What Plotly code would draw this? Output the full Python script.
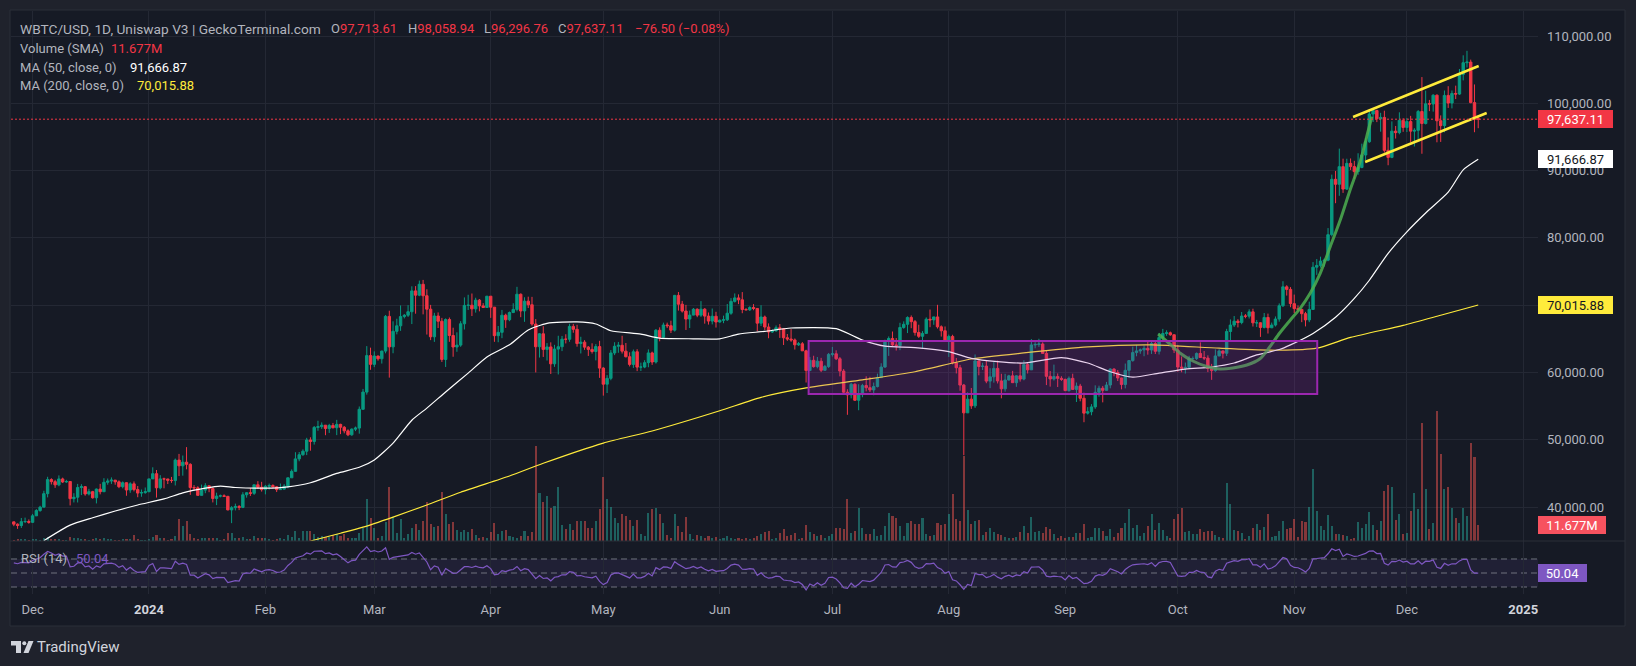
import plotly.graph_objects as go
import pandas as pd

W, H = 1636, 666
FONT = "Roboto, 'Open Sans', sans-serif"

# ---------------- data (prices in thousands of USD, volume in millions) ----------------
opens_k = [
    37.79, 37.45, 37.25, 37.82, 37.85,
    37.72, 38.69, 39.47, 39.98, 41.98, 44.08, 43.77, 43.29, 44.17, 43.72, 43.79, 41.24, 41.45, 42.89, 43.02, 41.94, 42.28, 41.37, 42.66, 42.27, 43.67, 43.86, 43.99, 43.74, 43.02, 43.61, 42.52, 43.44, 42.59, 42.07, 42.14,
    42.28, 44.18, 44.95, 42.85, 44.18, 44.16, 43.97, 43.93, 46.97, 46.12, 46.66, 46.34, 42.89, 42.85, 41.73, 42.51, 43.15, 42.74, 41.26, 41.62, 41.66, 41.58, 39.57, 39.90, 40.08, 39.94, 41.82, 42.12, 42.03, 43.30, 42.94,
    42.58, 43.08, 43.19, 43.00, 42.58, 42.66, 43.09, 44.34, 45.30, 47.15, 47.77, 48.29, 49.96, 49.74, 51.83, 51.94, 52.16, 51.66, 52.12, 51.78, 52.28, 51.85, 51.32, 50.73, 51.57, 51.73, 54.52, 57.08, 62.50,
    61.20, 62.44, 62.03, 63.17, 68.33, 63.80, 66.11, 66.93, 68.30, 68.50, 69.02, 72.12, 71.48, 73.10, 71.40, 69.40, 65.30, 68.39, 67.61, 61.93, 67.86, 65.49, 63.78, 64.06, 67.23, 69.96, 69.99, 69.45, 70.74, 69.89, 69.65,
    71.33, 69.70, 65.46, 65.96, 68.50, 67.83, 68.90, 69.36, 71.62, 69.14, 70.59, 70.06, 67.19, 63.82, 65.74, 63.42, 63.79, 61.28, 63.47, 63.82, 64.94, 64.93, 66.84, 66.41, 64.29, 64.50, 63.76, 63.42, 63.11, 63.84,
    60.64, 58.25, 59.12, 62.89, 63.89, 64.03, 63.16, 62.33, 61.19, 63.07, 60.79, 60.80, 61.45, 62.90, 61.55, 66.27, 65.23, 67.05, 66.94, 66.28, 71.45, 70.14, 69.12, 67.93, 68.52, 69.39, 68.51, 69.40, 68.37, 67.63, 68.35,
    67.49, 67.76, 67.82, 68.80, 70.56, 71.08, 70.79, 69.35, 69.31, 69.65, 69.51, 67.32, 68.24, 66.75, 66.01, 66.19, 66.64, 66.49, 65.15, 64.96, 64.83, 64.10, 64.26, 63.21, 60.28, 61.80, 60.86, 61.67, 60.32, 60.89,
    62.68, 62.77, 62.03, 60.20, 57.06, 56.66, 58.24, 55.86, 56.71, 58.05, 57.73, 57.40, 57.90, 59.23, 60.80, 64.72, 65.04, 64.09, 63.99, 66.68, 67.15, 68.17, 67.55, 65.94, 65.37, 65.80, 67.91, 67.81, 68.25, 66.78, 66.19,
    64.62, 65.35, 61.42, 60.70, 58.12, 53.99, 56.03, 55.03, 61.71, 60.88, 60.94, 58.71, 59.35, 60.60, 58.74, 57.56, 58.87, 59.49, 58.48, 59.49, 59.01, 61.16, 60.38, 64.09, 64.16, 64.22, 62.83, 59.42, 59.03, 59.38, 59.12,
    58.97, 57.30, 59.12, 57.48, 57.97, 56.16, 53.95, 54.16, 54.88, 57.04, 57.65, 57.34, 58.13, 60.50, 60.00, 59.18, 58.21, 60.31, 61.76, 62.95, 63.20, 63.35, 63.58, 63.33, 64.30, 63.14, 65.18, 65.79, 65.89, 65.60,
    63.33, 60.80, 60.63, 60.75, 62.07, 62.07, 62.82, 62.22, 62.13, 60.58, 60.27, 62.45, 63.19, 62.85, 66.08, 67.04, 67.62, 67.42, 68.38, 68.36, 69.00, 67.37, 67.38, 66.68, 68.17, 66.64, 67.04, 67.94, 69.91, 72.72, 72.34,
    70.22, 69.48, 69.37, 68.73, 67.81, 69.36, 75.64, 75.90, 76.55, 76.68, 80.47, 88.70, 87.96, 90.58, 87.25, 91.07, 90.59, 89.85, 90.46, 92.31, 94.29, 98.40, 98.92, 97.70, 97.90, 93.01, 91.96, 95.86, 95.64, 97.46,
    96.41, 97.28, 95.86, 95.98, 98.77, 97.00, 99.92, 99.89, 101.20, 97.40, 96.68, 101.17, 100.04, 101.46, 101.37, 104.30, 106.03, 106.12, 100.10, 97.71361,
]
highs_k = [
    37.82, 37.56, 38.37, 38.42, 38.15,
    38.97, 39.68, 40.18, 42.41, 44.49, 44.27, 44.04, 44.70, 44.36, 44.04, 43.81, 42.05, 43.43, 43.39, 43.08, 42.70, 42.40, 42.75, 43.44, 44.28, 44.23, 44.40, 44.02, 43.95, 43.80, 43.65, 43.68, 43.80, 43.12, 42.60, 42.90,
    44.19, 45.90, 45.50, 44.73, 44.36, 44.19, 44.47, 47.20, 47.89, 47.65, 48.90, 46.50, 43.25, 43.08, 43.33, 43.54, 43.18, 42.93, 42.13, 41.85, 41.88, 41.66, 40.13, 40.50, 40.29, 42.20, 42.19, 42.82, 43.31, 43.84, 43.74,
    43.28, 43.48, 43.38, 43.12, 43.49, 43.40, 44.37, 45.59, 48.14, 48.17, 48.56, 50.28, 50.36, 52.04, 52.82, 52.57, 52.17, 52.36, 52.49, 52.95, 52.37, 52.03, 51.55, 51.68, 51.95, 54.94, 57.55, 63.91, 63.68,
    63.13, 62.48, 63.23, 68.54, 69.17, 67.60, 67.98, 69.96, 68.67, 70.00, 72.80, 72.83, 73.65, 73.75, 72.36, 70.04, 68.86, 68.92, 68.11, 68.03, 68.16, 66.65, 65.96, 67.62, 71.15, 71.54, 71.73, 71.10, 70.91, 70.30, 71.37,
    71.34, 69.72, 66.90, 69.29, 68.73, 69.05, 70.28, 72.72, 71.74, 71.17, 71.26, 71.23, 67.93, 65.84, 66.87, 64.36, 64.47, 64.10, 65.45, 65.42, 65.67, 67.23, 67.21, 67.08, 65.30, 64.80, 63.92, 64.33, 64.21, 64.70,
    60.78, 59.60, 63.32, 64.49, 64.53, 65.45, 64.37, 62.99, 63.40, 63.45, 61.46, 61.82, 63.42, 63.09, 66.45, 66.70, 67.40, 67.40, 67.69, 71.52, 71.95, 70.63, 70.04, 69.19, 69.57, 69.52, 70.60, 69.56, 68.91, 69.50, 69.01,
    67.86, 68.44, 70.17, 71.05, 71.74, 71.60, 71.94, 69.56, 69.84, 70.15, 69.56, 69.99, 68.45, 67.29, 66.40, 66.98, 67.19, 66.55, 65.71, 66.44, 65.05, 64.52, 64.51, 63.37, 62.29, 62.48, 62.29, 62.17, 61.11, 62.89,
    63.79, 63.29, 62.29, 60.50, 57.50, 58.47, 58.39, 58.24, 58.30, 59.43, 59.35, 58.50, 59.82, 61.36, 64.87, 65.35, 66.08, 65.11, 67.38, 67.59, 68.33, 68.47, 67.79, 67.09, 66.14, 68.18, 69.35, 68.28, 70.05, 66.99, 66.83,
    65.62, 65.60, 62.15, 61.12, 58.29, 57.03, 57.69, 62.67, 61.74, 61.43, 61.78, 60.63, 61.53, 61.77, 59.80, 59.79, 59.64, 60.23, 59.57, 61.38, 61.80, 61.39, 64.95, 64.48, 65.00, 64.47, 63.20, 60.21, 61.16, 59.85, 59.43,
    59.06, 59.40, 59.81, 58.50, 58.30, 56.99, 54.84, 55.29, 58.08, 58.03, 57.99, 58.59, 60.62, 60.62, 60.36, 59.21, 61.32, 61.80, 63.83, 64.09, 63.56, 64.00, 64.74, 64.81, 64.70, 65.84, 66.47, 66.26, 66.07, 65.63,
    64.08, 62.37, 61.47, 62.47, 62.37, 62.97, 64.47, 63.18, 62.54, 61.27, 63.42, 63.45, 63.27, 66.48, 67.88, 68.38, 67.91, 68.98, 68.67, 69.38, 69.47, 67.80, 67.45, 68.83, 68.74, 67.41, 68.32, 70.26, 73.56, 72.96, 72.68,
    71.57, 69.95, 69.40, 69.00, 70.52, 76.40, 76.85, 77.20, 76.92, 81.45, 89.40, 89.94, 93.26, 91.77, 91.76, 91.80, 91.45, 92.57, 94.00, 94.83, 98.97, 99.30, 99.05, 98.58, 98.90, 94.93, 97.31, 96.63, 98.66, 97.78,
    97.82, 98.13, 96.30, 99.00, 103.90, 101.88, 100.50, 101.35, 101.32, 98.20, 101.90, 102.54, 101.90, 102.62, 105.10, 107.13, 107.80, 106.49, 102.80, 98.05894,
]
lows_k = [
    37.15, 36.75, 36.89, 37.61, 37.52,
    37.62, 38.65, 39.29, 39.97, 41.43, 43.35, 42.84, 43.08, 43.58, 43.59, 40.23, 40.68, 40.67, 41.77, 41.68, 41.72, 41.25, 40.53, 41.88, 42.23, 43.31, 43.43, 43.31, 42.80, 42.77, 41.67, 42.11, 42.32, 41.45, 41.52, 41.97,
    42.19, 44.18, 41.40, 42.63, 42.78, 43.41, 43.59, 43.20, 44.60, 44.66, 45.60, 41.80, 42.44, 41.72, 41.72, 42.05, 42.20, 40.68, 40.28, 41.43, 41.50, 39.50, 37.60, 39.49, 39.54, 39.83, 41.39, 41.64, 41.80, 42.70, 42.29,
    41.88, 42.58, 42.89, 42.22, 42.55, 42.57, 42.79, 44.33, 45.25, 46.80, 47.61, 47.71, 48.37, 49.28, 51.33, 51.60, 50.67, 51.01, 51.68, 50.68, 50.83, 50.95, 50.53, 50.59, 51.28, 50.90, 54.45, 56.70, 60.39,
    60.79, 61.75, 61.32, 62.84, 59.23, 62.85, 65.66, 66.18, 68.03, 68.24, 67.19, 68.73, 71.33, 68.63, 65.63, 64.80, 64.54, 66.60, 61.56, 60.81, 64.55, 62.33, 63.07, 63.81, 66.38, 69.28, 68.38, 68.89, 69.08, 69.57, 69.60,
    68.11, 64.55, 64.49, 65.09, 66.62, 67.61, 68.82, 69.07, 68.21, 67.52, 69.57, 66.94, 60.00, 62.21, 62.30, 61.77, 59.77, 60.83, 59.70, 63.17, 64.31, 64.55, 65.90, 63.83, 62.82, 63.35, 62.45, 62.80, 61.79, 59.19,
    56.55, 56.94, 58.84, 62.57, 62.92, 62.81, 62.24, 60.89, 60.67, 60.19, 60.21, 60.63, 60.77, 61.12, 61.32, 64.62, 65.13, 66.59, 65.86, 66.07, 69.19, 68.90, 66.31, 66.60, 68.50, 68.21, 68.25, 67.25, 67.11, 67.14, 66.67,
    67.40, 67.32, 67.64, 68.57, 70.39, 70.15, 68.80, 69.21, 69.13, 69.24, 66.11, 66.90, 66.30, 65.08, 65.87, 66.04, 65.13, 64.08, 64.69, 64.55, 63.40, 63.94, 63.20, 58.50, 60.24, 60.71, 60.61, 60.05, 60.27, 60.66,
    62.36, 61.84, 59.42, 56.78, 53.70, 56.15, 55.76, 54.38, 56.31, 57.19, 57.09, 56.61, 57.77, 59.21, 60.69, 62.46, 63.91, 63.25, 63.31, 66.49, 65.85, 66.57, 65.48, 65.13, 63.48, 65.77, 66.72, 67.08, 66.52, 65.33, 64.57,
    62.30, 61.20, 59.85, 57.28, 47.70, 53.97, 54.58, 54.72, 59.57, 60.36, 58.40, 57.67, 58.48, 58.36, 56.15, 57.14, 58.79, 58.42, 57.86, 58.63, 58.83, 59.84, 60.36, 63.58, 63.80, 62.81, 58.12, 57.89, 58.79, 57.83, 58.74,
    57.23, 57.14, 57.42, 55.61, 55.71, 52.60, 53.74, 53.63, 54.59, 56.40, 55.55, 57.32, 57.64, 59.43, 58.72, 57.49, 57.63, 59.18, 61.59, 62.40, 62.77, 62.41, 62.64, 62.75, 62.73, 62.67, 64.86, 65.44, 65.44, 62.88,
    60.10, 60.02, 59.83, 60.49, 61.68, 61.85, 62.18, 61.84, 60.05, 58.90, 60.10, 62.41, 62.08, 62.44, 64.82, 66.75, 66.69, 67.16, 68.05, 68.01, 66.82, 66.75, 65.28, 66.54, 65.78, 66.58, 66.82, 67.54, 69.73, 71.42, 69.69,
    68.82, 69.05, 67.47, 66.84, 67.47, 69.30, 74.50, 75.57, 75.73, 76.53, 80.22, 85.15, 86.25, 86.68, 87.12, 90.09, 88.74, 89.38, 90.35, 91.56, 94.13, 97.22, 97.20, 95.78, 92.68, 90.79, 91.84, 94.76, 95.39, 95.76,
    95.72, 94.26, 93.58, 94.66, 92.50, 96.85, 98.83, 98.76, 94.20, 94.26, 95.69, 99.31, 99.24, 100.63, 101.24, 103.40, 105.33, 100.00, 95.70, 96.29676,
]
closes_k = [
    37.45, 37.25, 37.82, 37.85, 37.72,
    38.69, 39.47, 39.98, 41.98, 44.08, 43.77, 43.29, 44.17, 43.72, 43.79, 41.24, 41.45, 42.89, 43.02, 41.94, 42.28, 41.37, 42.66, 42.27, 43.67, 43.86, 43.99, 43.74, 43.02, 43.61, 42.52, 43.44, 42.59, 42.07, 42.14, 42.28,
    44.18, 44.95, 42.85, 44.18, 44.16, 43.97, 43.93, 46.97, 46.12, 46.66, 46.34, 42.89, 42.85, 41.73, 42.51, 43.15, 42.74, 41.26, 41.62, 41.66, 41.58, 39.57, 39.90, 40.08, 39.94, 41.82, 42.12, 42.03, 43.30, 42.94, 42.58,
    43.08, 43.19, 43.00, 42.58, 42.66, 43.09, 44.34, 45.30, 47.15, 47.77, 48.29, 49.96, 49.74, 51.83, 51.94, 52.16, 51.66, 52.12, 51.78, 52.28, 51.85, 51.32, 50.73, 51.57, 51.73, 54.52, 57.08, 62.50, 61.20,
    62.44, 62.03, 63.17, 68.33, 63.80, 66.11, 66.93, 68.30, 68.50, 69.02, 72.12, 71.48, 73.10, 71.40, 69.40, 65.30, 68.39, 67.61, 61.93, 67.86, 65.49, 63.78, 64.06, 67.23, 69.96, 69.99, 69.45, 70.74, 69.89, 69.65, 71.33,
    69.70, 65.46, 65.96, 68.50, 67.83, 68.90, 69.36, 71.62, 69.14, 70.59, 70.06, 67.19, 63.82, 65.74, 63.42, 63.79, 61.28, 63.47, 63.82, 64.94, 64.93, 66.84, 66.41, 64.29, 64.50, 63.76, 63.42, 63.11, 63.84, 60.64,
    58.25, 59.12, 62.89, 63.89, 64.03, 63.16, 62.33, 61.19, 63.07, 60.79, 60.80, 61.45, 62.90, 61.55, 66.27, 65.23, 67.05, 66.94, 66.28, 71.45, 70.14, 69.12, 67.93, 68.52, 69.39, 68.51, 69.40, 68.37, 67.63, 68.35, 67.49,
    67.76, 67.82, 68.80, 70.56, 71.08, 70.79, 69.35, 69.31, 69.65, 69.51, 67.32, 68.24, 66.75, 66.01, 66.19, 66.64, 66.49, 65.15, 64.96, 64.83, 64.10, 64.26, 63.21, 60.28, 61.80, 60.86, 61.67, 60.32, 60.89, 62.68,
    62.77, 62.03, 60.20, 57.06, 56.66, 58.24, 55.86, 56.71, 58.05, 57.73, 57.40, 57.90, 59.23, 60.80, 64.72, 65.04, 64.09, 63.99, 66.68, 67.15, 68.17, 67.55, 65.94, 65.37, 65.80, 67.91, 67.81, 68.25, 66.78, 66.19, 64.62,
    65.35, 61.42, 60.70, 58.12, 53.99, 56.03, 55.03, 61.71, 60.88, 60.94, 58.71, 59.35, 60.60, 58.74, 57.56, 58.87, 59.49, 58.48, 59.49, 59.01, 61.16, 60.38, 64.09, 64.16, 64.22, 62.83, 59.42, 59.03, 59.38, 59.12, 58.97,
    57.30, 59.12, 57.48, 57.97, 56.16, 53.95, 54.16, 54.88, 57.04, 57.65, 57.34, 58.13, 60.50, 60.00, 59.18, 58.21, 60.31, 61.76, 62.95, 63.20, 63.35, 63.58, 63.33, 64.30, 63.14, 65.18, 65.79, 65.89, 65.60, 63.33,
    60.80, 60.63, 60.75, 62.07, 62.07, 62.82, 62.22, 62.13, 60.58, 60.27, 62.45, 63.19, 62.85, 66.08, 67.04, 67.62, 67.42, 68.38, 68.36, 69.00, 67.37, 67.38, 66.68, 68.17, 66.64, 67.04, 67.94, 69.91, 72.72, 72.34, 70.22,
    69.48, 69.37, 68.73, 67.81, 69.36, 75.64, 75.90, 76.55, 76.68, 80.47, 88.70, 87.96, 90.58, 87.25, 91.07, 90.59, 89.85, 90.46, 92.31, 94.29, 98.40, 98.92, 97.70, 97.90, 93.01, 91.96, 95.86, 95.64, 97.46, 96.41,
    97.28, 95.86, 95.98, 98.77, 97.00, 99.92, 99.89, 101.20, 97.40, 96.68, 101.17, 100.04, 101.46, 101.37, 104.30, 106.03, 106.12, 100.10, 97.71361, 97.63711,
]
volumes_m = [
    0.8, 1.1, 1.5, 1.1, 0.8,
    1.2, 1.4, 1.0, 2.4, 3.0, 1.6, 1.5, 1.8, 0.9, 0.8, 3.2, 2.0, 2.2, 1.4, 1.6, 0.9, 1.1, 2.3, 1.5, 2.1, 1.4, 1.2, 0.9, 1.0, 1.1, 1.8, 1.6, 4.4, 1.7, 1.0, 0.9,
    1.3, 3.0, 4.5, 2.0, 1.9, 1.0, 1.1, 3.8, 16.0, 11.0, 14.6, 5.0, 2.1, 1.6, 2.0, 2.2, 1.9, 2.4, 2.0, 1.0, 1.1, 5.8, 5.8, 2.5, 2.0, 2.8, 1.2, 1.3, 3.4, 2.0, 2.2,
    2.0, 1.8, 1.0, 1.5, 2.2, 1.6, 4.4, 3.0, 7.3, 2.4, 7.3, 7.3, 7.3, 5.4, 2.9, 3.7, 2.9, 2.9, 4.4, 5.4, 3.7, 5.4, 2.4, 2.0, 2.4, 6.1, 9.8, 30.7, 17.0,
    9.8, 2.4, 3.7, 14.2, 39.6, 17.5, 6.1, 16.1, 2.0, 4.9, 9.8, 12.2, 7.8, 14.6, 28.7, 12.2, 10.2, 11.0, 35.8, 20.0, 12.2, 13.9, 7.8, 6.8, 7.8, 6.8, 8.5, 4.4, 2.0, 2.9, 2.0,
    6.8, 13.2, 5.4, 7.3, 7.8, 3.7, 2.9, 2.4, 3.7, 7.3, 3.7, 6.8, 69.4, 35.0, 28.5, 32.9, 24.1, 25.5, 39.4, 11.7, 8.5, 12.4, 7.8, 14.6, 14.6, 14.6, 9.7, 9.2, 14.6, 23.1,
    46.7, 30.9, 24.8, 16.5, 12.9, 19.7, 18.2, 15.1, 11.0, 15.1, 5.4, 3.7, 20.4, 23.1, 23.8, 19.7, 12.9, 4.4, 2.4, 19.5, 11.0, 6.8, 17.5, 5.4, 1.2, 4.4, 3.7, 2.4, 3.7, 2.0, 2.9,
    1.2, 2.4, 3.7, 2.4, 1.2, 2.4, 1.2, 2.4, 1.2, 2.4, 3.7, 4.9, 6.8, 7.3, 1.2, 2.0, 6.1, 8.8, 3.7, 4.4, 6.1, 1.2, 2.4, 11.7, 6.8, 4.9, 3.7, 4.4, 2.0, 3.7,
    5.4, 9.8, 9.5, 8.5, 30.7, 6.1, 7.3, 24.3, 9.7, 4.9, 4.9, 8.5, 3.7, 4.4, 11.0, 20.7, 18.2, 16.8, 11.0, 3.7, 13.4, 14.6, 12.2, 12.2, 17.0, 5.4, 3.7, 4.1, 13.4, 11.7, 12.2,
    19.5, 34.1, 16.1, 14.6, 62.1, 22.6, 12.2, 14.6, 15.6, 4.4, 6.8, 9.7, 6.8, 5.4, 4.4, 2.9, 2.0, 2.0, 2.9, 6.8, 11.0, 6.1, 17.5, 6.6, 7.3, 6.1, 10.2, 8.5, 4.9, 2.4, 3.7,
    2.4, 2.9, 2.9, 6.1, 6.1, 12.7, 2.4, 2.9, 9.2, 9.2, 7.3, 3.7, 8.5, 2.9, 6.1, 9.2, 13.4, 23.1, 9.2, 11.4, 3.7, 5.8, 11.0, 20.0, 7.8, 13.4, 7.8, 3.7, 2.4, 15.8,
    20.0, 23.8, 6.8, 7.3, 4.9, 5.4, 8.5, 6.8, 7.3, 7.3, 4.4, 2.9, 2.4, 42.1, 26.8, 7.8, 7.3, 5.6, 1.2, 3.7, 9.7, 12.2, 7.8, 10.2, 19.5, 2.9, 3.7, 7.3, 14.6, 8.5, 9.7,
    15.8, 2.9, 14.6, 14.1, 24.8, 52.3, 21.9, 11.0, 7.8, 19.0, 11.0, 5.4, 5.4, 4.4, 3.7, 1.7, 2.4, 13.9, 9.7, 12.2, 21.4, 11.7, 7.8, 14.6, 36.5, 40.9, 39.4, 15.3, 20.0, 4.9,
    6.1, 21.9, 35.3, 23.1, 86.4, 37.7, 8.5, 13.4, 94.9, 63.3, 38.2, 39.4, 24.3, 17.0, 13.4, 24.3, 18.2, 71.8, 61.3, 11.677,
]

# moving averages read at sample dates
ma50_dates = ["2023-12-04", "2023-12-11", "2023-12-17", "2023-12-23", "2023-12-29", "2024-01-05", "2024-01-10",
              "2024-01-16", "2024-01-20", "2024-01-24", "2024-02-01", "2024-02-07", "2024-02-13", "2024-02-20",
              "2024-02-26", "2024-03-01", "2024-03-06", "2024-03-11", "2024-03-15", "2024-03-20", "2024-03-26",
              "2024-03-31", "2024-04-06", "2024-04-11", "2024-04-16", "2024-04-24", "2024-04-29", "2024-05-03",
              "2024-05-11", "2024-05-16", "2024-05-25", "2024-06-01", "2024-06-06", "2024-06-13", "2024-06-20",
              "2024-07-02", "2024-07-09", "2024-07-15", "2024-07-23", "2024-08-01", "2024-08-07", "2024-08-14",
              "2024-08-21", "2024-08-31", "2024-09-07", "2024-09-13", "2024-09-19", "2024-09-26", "2024-10-03",
              "2024-10-10", "2024-10-16", "2024-10-22", "2024-10-28", "2024-10-31", "2024-11-06", "2024-11-12",
              "2024-11-17", "2024-11-21", "2024-11-26", "2024-12-01", "2024-12-06", "2024-12-12", "2024-12-16",
              "2024-12-20"]
ma50_k = [35.0, 37.3, 38.4, 39.4, 40.3, 41.2, 42.1, 42.8, 43.1, 42.9, 42.8, 43.0, 43.6, 45.0, 45.9, 47.0, 49.5,
          52.9, 54.7, 57.1, 59.9, 62.3, 64.1, 66.3, 67.3, 67.5, 67.2, 66.2, 65.7, 65.1, 65.0, 65.0, 65.7, 66.1,
          66.6, 66.5, 64.8, 63.9, 63.7, 63.1, 62.1, 61.6, 61.4, 62.2, 61.4, 60.1, 59.3, 59.9, 60.5, 60.8, 61.4,
          62.6, 63.4, 64.1, 65.8, 68.2, 71.0, 73.7, 77.7, 80.9, 83.7, 86.8, 90.1, 91.66687]
ma200_dates = ["2024-02-13", "2024-02-21", "2024-02-27", "2024-03-06", "2024-03-15", "2024-03-24", "2024-04-06",
               "2024-04-15", "2024-05-01", "2024-05-14", "2024-06-01", "2024-06-12", "2024-06-24", "2024-07-09",
               "2024-07-23", "2024-08-07", "2024-08-21", "2024-09-07", "2024-09-24", "2024-10-12", "2024-10-28",
               "2024-11-07", "2024-11-16", "2024-11-30", "2024-12-10", "2024-12-20"]
ma200_k = [34.95, 36.1, 37.0, 38.5, 40.3, 42.2, 44.6, 46.5, 49.5, 51.3, 54.3, 56.3, 57.7, 58.9, 60.1, 62.0, 62.9,
           63.8, 64.1, 63.6, 63.3, 63.6, 65.2, 67.0, 68.5, 70.01588]

# RSI(14) Wilder averages carried in from the days before the visible window (USD per day)
rsi_seed_avg_gain, rsi_seed_avg_loss = 560.0, 310.0

month_ticks = ["2023-12-01", "2024-01-01", "2024-02-01", "2024-03-01", "2024-04-01", "2024-05-01", "2024-06-01",
               "2024-07-01", "2024-08-01", "2024-09-01", "2024-10-01", "2024-11-01", "2024-12-01", "2025-01-01"]
month_labels = ["Dec", "2024", "Feb", "Mar", "Apr", "May", "Jun", "Jul", "Aug", "Sep", "Oct", "Nov", "Dec", "2025"]
year_labels = ["2024", "2025"]

# drawings
box_dates = ["2024-06-24 16:00", "2024-11-07 03:00"]
box_k = [56.79, 64.67]
curve_dates = ["2024-09-25 18:00", "2024-09-28 21:00", "2024-10-01 13:00", "2024-10-05 00:00", "2024-10-08 17:00",
               "2024-10-12 04:00", "2024-10-15 15:00", "2024-10-19 09:00", "2024-10-22 19:00", "2024-10-25 11:00",
               "2024-10-28 03:00", "2024-10-30 23:00", "2024-11-02 14:00", "2024-11-05 06:00", "2024-11-07 22:00",
               "2024-11-10 14:00", "2024-11-13 06:00", "2024-11-15 21:00", "2024-11-18 13:00", "2024-11-20 18:00",
               "2024-11-21 16:00"]
curve_k = [65.71, 64.23, 62.89, 61.70, 60.88, 60.51, 60.66, 61.10, 61.99, 63.78, 65.86, 67.79, 69.53, 71.76, 74.73,
           78.69, 82.65, 87.11, 91.32, 96.03, 98.01]
chan_up_dates = ["2024-11-16 16:00", "2024-12-20 03:00"]
chan_up_k = [97.96, 105.54]
chan_lo_dates = ["2024-11-19 21:00", "2024-12-22 06:00"]
chan_lo_k = [91.27, 98.56]

last_open, last_high, last_low, last_close = 97713.61, 98058.94, 96296.76, 97637.11
last_ma50, last_ma200, last_vol, last_rsi_label = 91666.87, 70015.88, 11.677, "50.04"

n = len(closes_k)
assert len(opens_k) == n and len(highs_k) == n and len(lows_k) == n and len(volumes_m) == n, \
    (len(opens_k), len(highs_k), len(lows_k), n, len(volumes_m))

K = 1000.0
dates = pd.date_range("2023-11-26", periods=n, freq="D")
opens = [v * K for v in opens_k]
highs = [v * K for v in highs_k]
lows = [v * K for v in lows_k]
closes = [v * K for v in closes_k]

# RSI(14) of the closes, Wilder smoothing continued from the seeded averages
ag, al = rsi_seed_avg_gain, rsi_seed_avg_loss
rsi = [100 - 100 / (1 + ag / al)]
for i in range(1, n):
    d = closes[i] - closes[i - 1]
    ag = (ag * 13 + max(d, 0.0)) / 14
    al = (al * 13 + max(-d, 0.0)) / 14
    rsi.append(100 - 100 / (1 + ag / al))

# ---------------- styling ----------------
UP, DN = "#089981", "#F23645"
VUP, VDN = "rgba(38,166,154,0.5)", "rgba(239,83,80,0.5)"
GRID = "#242834"
TXT = "#B2B5BE"
OUTER, PANEL, BORDER = "#1F222C", "#161A25", "#2A2E39"

XL, XR = 11, 1538            # plot area left/right (px)
MAIN_T, MAIN_B = 11, 541      # main pane top/bottom (px)
RSI_T, RSI_B = 541, 594       # rsi pane (px)


def fx(px):
    return px / W


def fy(py):
    return 1 - py / H


vol_colors = [VUP if c >= o else VDN for o, c in zip(opens, closes)]

fig = go.Figure()
fig.add_trace(go.Bar(x=dates, y=volumes_m, marker=dict(color=vol_colors, line=dict(width=0)),
                     width=0.55 * 86400000, xaxis="x", yaxis="y", hoverinfo="skip", showlegend=False))
fig.add_trace(go.Candlestick(x=dates, open=opens, high=highs, low=lows, close=closes, xaxis="x", yaxis="y3",
                             increasing=dict(line=dict(color=UP, width=1), fillcolor=UP),
                             decreasing=dict(line=dict(color=DN, width=1), fillcolor=DN),
                             whiskerwidth=0, hoverinfo="skip", showlegend=False))
fig.add_trace(go.Scatter(x=ma200_dates, y=[v * K for v in ma200_k], mode="lines", xaxis="x", yaxis="y3",
                         line=dict(color="#FFEB3B", width=1.2, shape="spline", smoothing=0.6),
                         hoverinfo="skip", showlegend=False))
fig.add_trace(go.Scatter(x=ma50_dates, y=[v * K for v in ma50_k], mode="lines", xaxis="x", yaxis="y3",
                         line=dict(color="#FFFFFF", width=1.2, shape="spline", smoothing=0.6),
                         hoverinfo="skip", showlegend=False))
fig.add_trace(go.Scatter(x=curve_dates, y=[v * K for v in curve_k], mode="lines", xaxis="x", yaxis="y3",
                         line=dict(color="rgba(76,175,80,0.85)", width=3, shape="spline", smoothing=0.8),
                         hoverinfo="skip", showlegend=False))
for dd, vv in ((chan_up_dates, chan_up_k), (chan_lo_dates, chan_lo_k)):
    fig.add_trace(go.Scatter(x=dd, y=[v * K for v in vv], mode="lines", xaxis="x", yaxis="y3",
                             line=dict(color="#FFEB3B", width=2.5), hoverinfo="skip", showlegend=False))
fig.add_trace(go.Scatter(x=dates, y=rsi, mode="lines", xaxis="x2", yaxis="y2",
                         line=dict(color="#7E57C2", width=1.2), hoverinfo="skip", showlegend=False))

xrange = ["2023-11-25 06:00", "2025-01-04 22:00"]
tick_text = [f"<b><span style='color:#D1D4DC'>{t}</span></b>" if t in year_labels else t for t in month_labels]

fig.update_layout(
    width=W, height=H, autosize=False, margin=dict(l=0, r=0, t=0, b=0),
    paper_bgcolor=OUTER, plot_bgcolor="rgba(0,0,0,0)", showlegend=False,
    font=dict(family=FONT, color=TXT, size=13),
    boxgap=0.2, boxgroupgap=0.2, bargap=0,
    xaxis=dict(domain=[fx(XL), fx(XR)], anchor="y", type="date", range=xrange,
               tickvals=month_ticks, showticklabels=False, ticks="", showgrid=True, gridcolor=GRID,
               gridwidth=1, zeroline=False, showline=False, rangeslider=dict(visible=False), fixedrange=True),
    yaxis=dict(domain=[fy(MAIN_B), fy(MAIN_T)], range=[0, 386.9], visible=False, fixedrange=True),
    yaxis3=dict(overlaying="y", anchor="x", side="right", range=[34947, 113716], tick0=0, dtick=10000,
                tickformat=",.2f", showgrid=True, gridcolor=GRID, gridwidth=1, zeroline=False, ticks="",
                ticklabelstandoff=8, tickfont=dict(family=FONT, size=13, color=TXT), showline=False,
                fixedrange=True),
    xaxis2=dict(domain=[fx(XL), fx(XR)], anchor="y2", type="date", range=xrange,
                tickvals=month_ticks, ticktext=tick_text, ticks="", showgrid=True, gridcolor=GRID,
                zeroline=False, showline=False, ticklabelstandoff=6,
                tickfont=dict(family=FONT, size=13, color=TXT), fixedrange=True),
    yaxis2=dict(domain=[fy(RSI_B), fy(RSI_T)], range=[20, 95.7], visible=False, fixedrange=True),
)

# panel and separators
fig.add_shape(type="rect", xref="paper", yref="paper", x0=fx(10), x1=fx(1625), y0=fy(626), y1=fy(10),
              fillcolor=PANEL, line=dict(color=BORDER, width=1), layer="below")
fig.add_shape(type="line", xref="paper", yref="paper", x0=fx(10), x1=fx(1625), y0=fy(541), y1=fy(541),
              line=dict(color=BORDER, width=1), layer="above")

# RSI band and levels
fig.add_shape(type="rect", xref="x2 domain", yref="y2", x0=0, x1=1, y0=30, y1=70,
              fillcolor="rgba(126,87,194,0.10)", line=dict(width=0), layer="below")
for lvl in (70, 50, 30):
    fig.add_shape(type="line", xref="x2 domain", yref="y2", x0=0, x1=1, y0=lvl, y1=lvl,
                  line=dict(color="rgba(120,123,134,0.9)", width=1, dash="6px,4px"), layer="below")

# purple range box
fig.add_shape(type="rect", xref="x", yref="y3", x0=box_dates[0], x1=box_dates[1],
              y0=box_k[0] * K, y1=box_k[1] * K, fillcolor="rgba(156,39,176,0.2)",
              line=dict(color="#9C27B0", width=2), layer="above")

# last price dotted line
fig.add_shape(type="line", xref="x domain", yref="y3", x0=0, x1=1, y0=last_close, y1=last_close,
              line=dict(color="#F23645", width=1, dash="2px,2px"), layer="above")


def txt(px, py, text, color=TXT, size=13):
    fig.add_annotation(x=fx(px), y=fy(py), xref="paper", yref="paper", xanchor="left", yanchor="middle",
                       text=text, showarrow=False, font=dict(family=FONT, size=size, color=color),
                       borderpad=0, borderwidth=0)


def red(s):
    return f"<span style='color:#F23645'>{s}</span>"


txt(20, 29, "WBTC/USD, 1D, Uniswap V3 | GeckoTerminal.com", TXT, 13.7)
txt(331, 29, "O" + red(f"{last_open:,.2f}"))
txt(408, 29, "H" + red(f"{last_high:,.2f}"))
txt(484, 29, "L" + red(f"{last_low:,.2f}"))
txt(558, 29, "C" + red(f"{last_close:,.2f}"))
chg = last_close - last_open
txt(635, 29, red(f"\u2212{abs(chg):.2f} (\u2212{abs(chg) / last_open * 100:.2f}%)"))
txt(20, 48, "Volume (SMA)")
txt(111, 48, f"{last_vol:.3f}M", "#F23645")
txt(20, 67, "MA (50, close, 0)")
txt(130, 67, f"{last_ma50:,.2f}", "#FFFFFF")
txt(20, 86, "MA (200, close, 0)")
txt(137, 86, f"{last_ma200:,.2f}", "#FFEB3B")
txt(21, 558, "RSI (14)")
txt(76, 558, last_rsi_label, "#7E57C2")


def tag(yval, yref, text, bg, fg, w):
    fig.add_annotation(x=fx(XR), xref="paper", xanchor="left", y=yval, yref=yref, yanchor="middle",
                       text=text, showarrow=False, bgcolor=bg, bordercolor=bg, borderwidth=1, borderpad=1,
                       width=w - 4, height=14, align="center",
                       font=dict(family=FONT, size=13, color=fg))


tag(last_close, "y3", f"{last_close:,.2f}", "#F23645", "#FFFFFF", 75)
tag(last_ma50, "y3", f"{last_ma50:,.2f}", "#FFFFFF", "#131722", 75)
tag(last_ma200, "y3", f"{last_ma200:,.2f}", "#FFEB3B", "#131722", 75)
tag(last_vol, "y", f"{last_vol:.3f}M", "#F7525F", "#FFFFFF", 68)
tag(50.04, "y2", last_rsi_label, "#7E57C2", "#FFFFFF", 49)


# TradingView logo + wordmark
def path_px(pts):
    return "M " + " L ".join(f"{fx(x):.6f},{fy(y):.6f}" for x, y in pts) + " Z"


LOGO = "#D1D4DC"
fig.add_shape(type="path", xref="paper", yref="paper",
              path=path_px([(11, 641), (21, 641), (21, 653), (16, 653), (16, 645.5), (11, 645.5)]),
              fillcolor=LOGO, line=dict(width=0), layer="above")
fig.add_shape(type="circle", xref="paper", yref="paper", x0=fx(22.3), x1=fx(26.3), y0=fy(645.3), y1=fy(641.3),
              fillcolor=LOGO, line=dict(width=0), layer="above")
fig.add_shape(type="path", xref="paper", yref="paper",
              path=path_px([(28.5, 641), (33.5, 641), (28.5, 653), (23.5, 653)]),
              fillcolor=LOGO, line=dict(width=0), layer="above")
txt(37, 647, "TradingView", LOGO, 15)

fig.write_html("out.html")
